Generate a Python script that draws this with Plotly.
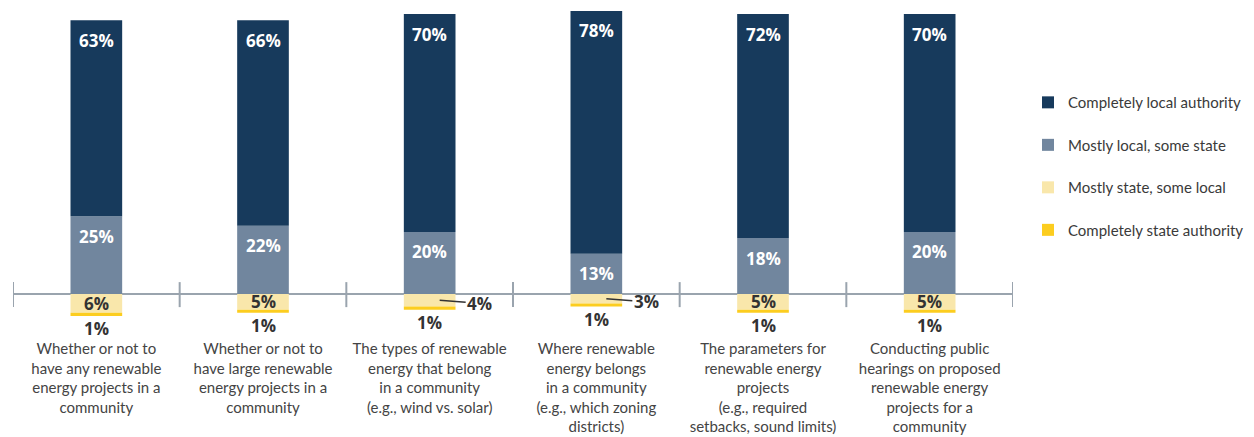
import plotly.graph_objects as go

categories = [
    "Whether or not to<br>have any renewable<br>energy projects in a<br>community",
    "Whether or not to<br>have large renewable<br>energy projects in a<br>community",
    "The types of renewable<br>energy that belong<br>in a community<br>(e.g., wind vs. solar)",
    "Where renewable<br>energy belongs<br>in a community<br>(e.g., which zoning<br>districts)",
    "The parameters for<br>renewable energy<br>projects<br>(e.g., required<br>setbacks, sound limits)",
    "Conducting public<br>hearings on proposed<br>renewable energy<br>projects for a<br>community",
]
completely_local = [63, 66, 70, 78, 72, 70]
mostly_local = [25, 22, 20, 13, 18, 20]
mostly_state = [6, 5, 4, 3, 5, 5]
completely_state = [1, 1, 1, 1, 1, 1]

C_DARK = "#173a5c"
C_MID = "#71869e"
C_LIGHT = "#f9e7ab"
C_YEL = "#fccd1f"

NUM_FONT = "Open Sans"
TXT_FONT = "Lato"

xs = [i + 0.5 for i in range(len(categories))]
BW = 0.31

fig = go.Figure()
common = dict(width=BW, marker_line_width=0, hoverinfo="skip")
fig.add_trace(go.Bar(x=xs, y=mostly_local, marker_color=C_MID, name="Mostly local, some state",
                     legendrank=2, legendgroup="b", **common))
fig.add_trace(go.Bar(x=xs, y=completely_local, marker_color=C_DARK, name="Completely local authority",
                     legendrank=1, legendgroup="a", **common))
fig.add_trace(go.Bar(x=xs, y=[-v for v in mostly_state], marker_color=C_LIGHT,
                     name="Mostly state, some local", legendrank=3, legendgroup="c", **common))
fig.add_trace(go.Bar(x=xs, y=[-v for v in completely_state], marker_color=C_YEL,
                     name="Completely state authority", legendrank=4, legendgroup="d", **common))

ann = []
numf_w = dict(family=NUM_FONT, size=17, color="white", weight=700)
numf_d = dict(family=NUM_FONT, size=17, color="#333333", weight=700)
for i, x in enumerate(xs):
    top = mostly_local[i] + completely_local[i]
    ann.append(dict(x=x, y=top, text=f"{completely_local[i]}%", showarrow=False,
                    yanchor="middle", yshift=-20, font=numf_w))
    ann.append(dict(x=x, y=mostly_local[i], text=f"{mostly_local[i]}%", showarrow=False,
                    yanchor="middle", yshift=-20, font=numf_w))
    ms = mostly_state[i]
    if ms >= 5:
        ann.append(dict(x=x, y=-ms / 2, text=f"{ms}%", showarrow=False, yanchor="middle", font=numf_d))
    else:
        ann.append(dict(x=x + 0.06, y=-ms / 2, text=f"{ms}%", showarrow=True, arrowhead=0,
                        arrowwidth=1.5, arrowcolor="#333333", ax=40, ay=3, standoff=0,
                        font=numf_d))
    bottom = -(ms + completely_state[i])
    ann.append(dict(x=x, y=bottom, text=f"{completely_state[i]}%", showarrow=False,
                    yanchor="top", yshift=1, font=numf_d))

shapes = [dict(type="line", xref="x", yref="y", x0=0, x1=len(categories), y0=0, y1=0,
               line=dict(color="#9aa4ae", width=2), layer="below")]
for k in range(len(categories) + 1):
    shapes.append(dict(type="line", xref="x", yref="y", ysizemode="pixel", yanchor=0,
                       x0=k, x1=k, y0=-13, y1=12, line=dict(color="#9aa4ae", width=2), layer="below"))

fig.update_layout(
    width=1254, height=437,
    margin=dict(l=13, r=241, t=10, b=99, autoexpand=False),
    barmode="relative",
    plot_bgcolor="white", paper_bgcolor="white",
    showlegend=True,
    legend=dict(x=1.015, y=0.768, xanchor="left", yanchor="top", tracegroupgap=20,
                font=dict(family=TXT_FONT, size=15, color="#3a3a3a"), bgcolor="rgba(0,0,0,0)"),
    xaxis=dict(range=[0, len(categories)], tickvals=xs, ticktext=categories, showgrid=False,
               zeroline=False, showline=False, ticks="", fixedrange=True, tickangle=0,
               automargin=False,
               tickfont=dict(family=TXT_FONT, size=15, color="#444444")),
    yaxis=dict(range=[-14.1, 91.3], visible=False, fixedrange=True, automargin=False),
    annotations=ann, shapes=shapes,
)

fig.write_html("out.html")
